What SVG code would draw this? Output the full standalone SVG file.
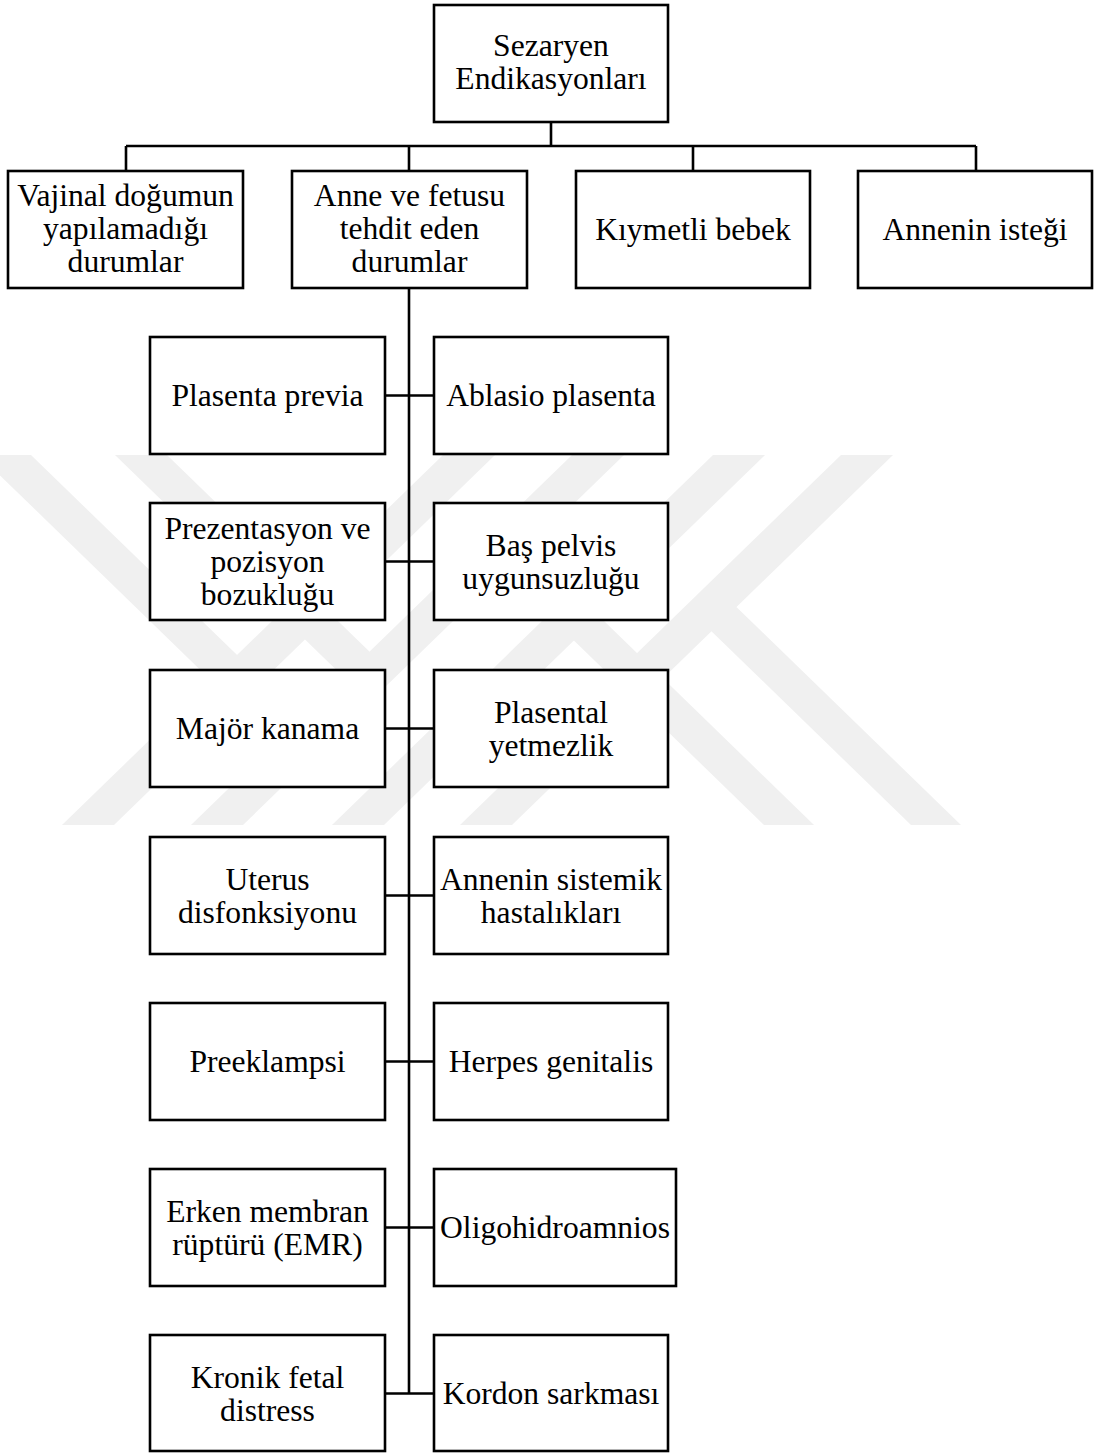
<svg xmlns="http://www.w3.org/2000/svg" width="1094" height="1453" viewBox="0 0 1094 1453">
<style>
.box{fill:#fff;stroke:#000;stroke-width:2.6}
.wire{fill:none;stroke:#000;stroke-width:2.6}
.lbl{font-family:"Liberation Serif","Times New Roman",serif;font-size:31.6px;text-anchor:middle;fill:#000}
.wm{fill:#f0f0f0}
</style>
<rect width="1094" height="1453" fill="#fff"/>
<g id="watermark">
<polygon class="wm" points="-21,455 31,455 250,667.6 224,692.9"/>
<polygon class="wm" points="115,455 167,455 382.5,664.2 356.5,689.5"/>
<polygon class="wm" points="443,455 495,455 114,825 62,825"/>
<polygon class="wm" points="572,455 624,455 243,825 191,825"/>
<polygon class="wm" points="713,455 765,455 384,825 332,825"/>
<polygon class="wm" points="841,455 893,455 512,825 460,825"/>
<polygon class="wm" points="764,825 814,825 586,603.6 561,627.9"/>
<polygon class="wm" points="911,825 961,825 723.5,594.4 698.5,618.7"/>
</g>
<g id="connectors">
<path class="wire" d="M551,122V146M126,146H976M126,146V171M409,146V171M693,146V171M976,146V171"/>
<path class="wire" d="M409,288V1393.5"/>
<path class="wire" d="M385,395.5H434M385,561.5H434M385,728.5H434M385,895.5H434M385,1061.5H434M385,1227.5H434M385,1393.5H434"/>
</g>
<g id="n-root"><rect class="box" x="434" y="5" width="234" height="117"/><text class="lbl" x="551" y="56">Sezaryen</text><text class="lbl" x="551" y="89">Endikasyonları</text></g>
<g id="n-vajinal"><rect class="box" x="8" y="171" width="235" height="117"/><text class="lbl" x="125.5" y="206">Vajinal doğumun</text><text class="lbl" x="125.5" y="239">yapılamadığı</text><text class="lbl" x="125.5" y="272">durumlar</text></g>
<g id="n-anne"><rect class="box" x="292" y="171" width="235" height="117"/><text class="lbl" x="409.5" y="206">Anne ve fetusu</text><text class="lbl" x="409.5" y="239">tehdit eden</text><text class="lbl" x="409.5" y="272">durumlar</text></g>
<g id="n-kiymetli"><rect class="box" x="576" y="171" width="234" height="117"/><text class="lbl" x="693" y="240">Kıymetli bebek</text></g>
<g id="n-istek"><rect class="box" x="858" y="171" width="234" height="117"/><text class="lbl" x="975" y="240">Annenin isteği</text></g>
<g id="n-previa"><rect class="box" x="150" y="337" width="235" height="117"/><text class="lbl" x="267.5" y="406">Plasenta previa</text></g>
<g id="n-ablasio"><rect class="box" x="434" y="337" width="234" height="117"/><text class="lbl" x="551" y="406">Ablasio plasenta</text></g>
<g id="n-prezentasyon"><rect class="box" x="150" y="503" width="235" height="117"/><text class="lbl" x="267.5" y="538.5">Prezentasyon ve</text><text class="lbl" x="267.5" y="571.5">pozisyon</text><text class="lbl" x="267.5" y="604.5">bozukluğu</text></g>
<g id="n-baspelvis"><rect class="box" x="434" y="503" width="234" height="117"/><text class="lbl" x="551" y="555.5">Baş pelvis</text><text class="lbl" x="551" y="588.5">uygunsuzluğu</text></g>
<g id="n-kanama"><rect class="box" x="150" y="670" width="235" height="117"/><text class="lbl" x="267.5" y="739">Majör kanama</text></g>
<g id="n-yetmezlik"><rect class="box" x="434" y="670" width="234" height="117"/><text class="lbl" x="551" y="722.5">Plasental</text><text class="lbl" x="551" y="755.5">yetmezlik</text></g>
<g id="n-uterus"><rect class="box" x="150" y="837" width="235" height="117"/><text class="lbl" x="267.5" y="889.5">Uterus</text><text class="lbl" x="267.5" y="922.5">disfonksiyonu</text></g>
<g id="n-sistemik"><rect class="box" x="434" y="837" width="234" height="117"/><text class="lbl" x="551" y="889.5">Annenin sistemik</text><text class="lbl" x="551" y="922.5">hastalıkları</text></g>
<g id="n-preeklampsi"><rect class="box" x="150" y="1003" width="235" height="117"/><text class="lbl" x="267.5" y="1072">Preeklampsi</text></g>
<g id="n-herpes"><rect class="box" x="434" y="1003" width="234" height="117"/><text class="lbl" x="551" y="1072">Herpes genitalis</text></g>
<g id="n-emr"><rect class="box" x="150" y="1169" width="235" height="117"/><text class="lbl" x="267.5" y="1221.5">Erken membran</text><text class="lbl" x="267.5" y="1254.5">rüptürü (EMR)</text></g>
<g id="n-oligo"><rect class="box" x="434" y="1169" width="242" height="117"/><text class="lbl" x="555" y="1238">Oligohidroamnios</text></g>
<g id="n-fetal"><rect class="box" x="150" y="1335" width="235" height="116"/><text class="lbl" x="267.5" y="1387.5">Kronik fetal</text><text class="lbl" x="267.5" y="1420.5">distress</text></g>
<g id="n-kordon"><rect class="box" x="434" y="1335" width="234" height="116"/><text class="lbl" x="551" y="1404">Kordon sarkması</text></g>
</svg>
